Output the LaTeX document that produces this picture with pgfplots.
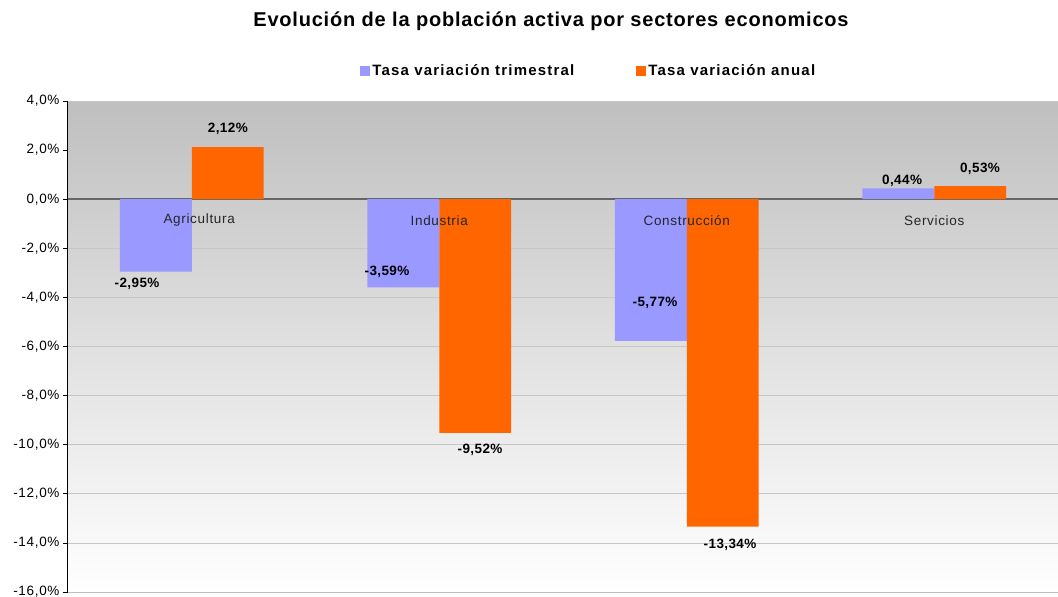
\documentclass[border=0pt]{standalone}
\usepackage{pgfplots}
\pgfplotsset{compat=1.18}
\usepackage{fontspec}
\setmainfont{Liberation Sans}
\definecolor{trim}{HTML}{9999FF}
\definecolor{anual}{HTML}{FF6600}
\begin{document}
\begin{tikzpicture}
\useasboundingbox (0pt,0pt) rectangle (1058pt,-597pt);
\node[font=\bfseries\fontsize{20}{22}\selectfont\addfontfeatures{LetterSpace=4}] at (551pt,-21pt) {Evolución de la población activa por sectores economicos};
\begin{axis}[
  at={(68pt,-101pt)}, anchor=north west,
  scale only axis, width=990pt, height=491pt,
  xmin=-0.5, xmax=3.5, ymin=-16, ymax=4,
  ybar=0pt, bar width=0.29,
  xtick=\empty,
  ytick={-16,-14,...,4},
  ytick pos=left, tick align=outside,
  major tick length=5pt,
  ytick style={black, line width=0.8pt},
  yticklabel={\pgfmathprintnumber[fixed,fixed zerofill,precision=1,use comma]{\tick}\%},
  /pgf/number format/assume math mode=true,
  tick label style={font=\fontsize{13.5}{15}\selectfont\addfontfeatures{LetterSpace=5}},
  ymajorgrids, major grid style={gray!45, line width=0.7pt},
  axis lines*=left,
  x axis line style={-, draw=gray!50, line width=1pt},
  y axis line style={-, black, line width=1pt},
  axis background/.style={top color=black!25, bottom color=white, middle color=black!12},
  extra y ticks={0}, extra y tick labels={},
  extra y tick style={ymajorgrids, major grid style={black!60, line width=1.5pt}, major tick length=0pt},
  legend style={at={(0.526,1)}, anchor=south, yshift=20pt, draw=none, fill=none,
    legend columns=2, font=\bfseries\fontsize{15}{17}\selectfont\addfontfeatures{LetterSpace=8},
    /tikz/every even column/.append style={column sep=60pt}},
  legend image code/.code={\fill[#1] (0pt,-5pt) rectangle (10pt,5pt);},
  clip=false,
]
\addplot[fill=trim, draw=none] coordinates {(0,-2.95) (1,-3.59) (2,-5.77) (3,0.44)};
\addplot[fill=anual, draw=none] coordinates {(0,2.12) (1,-9.52) (2,-13.34) (3,0.53)};
\legend{Tasa variación trimestral, Tasa variación anual}
\begin{scope}[every node/.style={text=black!85, font=\fontsize{13.5}{15}\selectfont\addfontfeatures{LetterSpace=5}}]
\node at (axis cs:0.03,-0.86) {Agricultura};
\node at (axis cs:1.0,-0.86) {Industria};
\node at (axis cs:2.0,-0.86) {Construcción};
\node at (axis cs:3.0,-0.86) {Servicios};
\end{scope}
\begin{scope}[every node/.style={font=\bfseries\fontsize{13.5}{15}\selectfont\addfontfeatures{LetterSpace=3}}]
\node at (axis cs:-0.221,-3.43) {-2,95\%};
\node at (axis cs:0.146,2.86) {2,12\%};
\node at (axis cs:0.789,-2.94) {-3,59\%};
\node at (axis cs:1.165,-10.2) {-9,52\%};
\node at (axis cs:1.872,-4.24) {-5,77\%};
\node at (axis cs:2.175,-14.08) {-13,34\%};
\node at (axis cs:2.870,0.73) {0,44\%};
\node at (axis cs:3.185,1.22) {0,53\%};
\end{scope}
\end{axis}
\end{tikzpicture}
\end{document}
